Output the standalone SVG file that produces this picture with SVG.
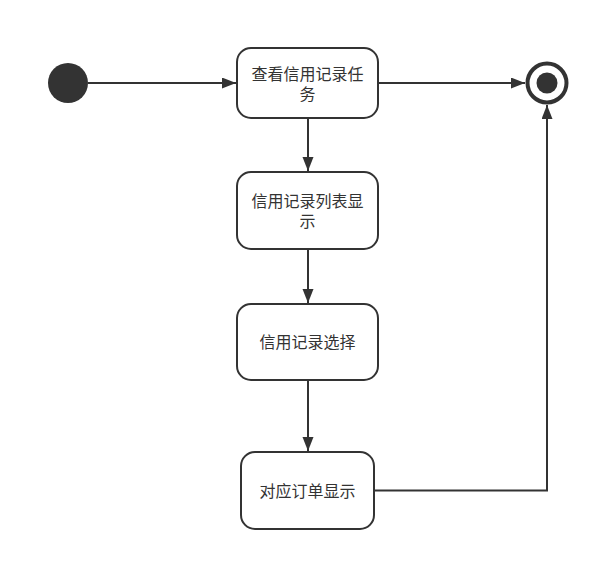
<svg xmlns="http://www.w3.org/2000/svg" width="599" height="561" viewBox="0 0 599 561">
<style>
.node rect{fill:#ffffff;stroke:#333333;stroke-width:2}
.lbl{font-family:"Noto Sans CJK SC","Liberation Sans",sans-serif;font-size:16px;fill:#333333;text-anchor:middle}
.edge{fill:none;stroke:#333333;stroke-width:2}
</style>
<defs>
<marker id="arr" markerUnits="userSpaceOnUse" markerWidth="16" markerHeight="12" refX="14" refY="5.5" orient="auto">
<path d="M0,0 L14,5.5 L0,11 Z" fill="#333333"/>
</marker>
</defs>
<rect width="599" height="561" fill="#ffffff"/>
<g id="connectors">
<path class="edge" d="M88,83 L236,83" marker-end="url(#arr)"/>
<path class="edge" d="M378,83 L525,83" marker-end="url(#arr)"/>
<path class="edge" d="M308,118 L308,171" marker-end="url(#arr)"/>
<path class="edge" d="M308,249 L308,303" marker-end="url(#arr)"/>
<path class="edge" d="M308,380 L308,451" marker-end="url(#arr)"/>
<path class="edge" d="M374,490.5 L547,490.5 L547,105" marker-end="url(#arr)"/>
</g>
<g id="start">
<circle cx="68" cy="83" r="20" fill="#333333"/>
</g>
<g id="end">
<circle cx="547" cy="83" r="19.5" fill="#ffffff" stroke="#333333" stroke-width="4"/>
<circle cx="547" cy="83" r="10.5" fill="#333333"/>
</g>
<g id="n1" class="node">
<rect x="237" y="48" width="141" height="70" rx="14" ry="14"/>
<text class="lbl" x="307.5" y="80">查看信用记录任</text>
<text class="lbl" x="307.5" y="100">务</text>
</g>
<g id="n2" class="node">
<rect x="237" y="172" width="141" height="77" rx="14" ry="14"/>
<text class="lbl" x="307.5" y="206.5">信用记录列表显</text>
<text class="lbl" x="307.5" y="226.5">示</text>
</g>
<g id="n3" class="node">
<rect x="237" y="304" width="141" height="76" rx="14" ry="14"/>
<text class="lbl" x="307.5" y="348">信用记录选择</text>
</g>
<g id="n4" class="node">
<rect x="241" y="452" width="133" height="77" rx="14" ry="14"/>
<text class="lbl" x="307.5" y="496.5">对应订单显示</text>
</g>
</svg>
